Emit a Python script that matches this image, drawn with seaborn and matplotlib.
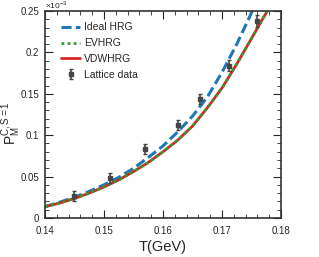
import numpy as np
import pandas as pd
import seaborn as sns
from matplotlib import pyplot as plt
from matplotlib.ticker import AutoMinorLocator

# model curves, values in units of 1e-3
T_model = [0.140, 0.1425, 0.145, 0.1475, 0.150, 0.1525, 0.155, 0.1575, 0.160,
           0.1625, 0.165, 0.1675, 0.170, 0.1725, 0.175, 0.1775, 0.180]
ideal_hrg = [0.0136, 0.019, 0.025, 0.032, 0.040, 0.049, 0.060, 0.073, 0.087,
             0.104, 0.123, 0.146, 0.176, 0.210, 0.248, 0.290, 0.340]
ev_hrg = [0.0136, 0.018, 0.0235, 0.030, 0.0375, 0.046, 0.056, 0.067, 0.080,
          0.094, 0.111, 0.133, 0.157, 0.186, 0.217, 0.248, 0.282]
vdw_hrg = [0.0136, 0.018, 0.0235, 0.030, 0.0375, 0.046, 0.056, 0.067, 0.080,
           0.094, 0.111, 0.133, 0.157, 0.186, 0.217, 0.248, 0.282]

# lattice points
T_lat = [0.145, 0.151, 0.157, 0.1625, 0.1663, 0.1712, 0.1759]
lat_val = [0.027, 0.048, 0.083, 0.112, 0.144, 0.184, 0.238]
lat_err = [0.006, 0.006, 0.006, 0.006, 0.006, 0.007, 0.007]

sns.set_style("ticks")
plt.rcParams["font.family"] = ["Liberation Sans", "DejaVu Sans"]
plt.rcParams["mathtext.fontset"] = "custom"
plt.rcParams["mathtext.rm"] = "Liberation Sans"

fig = plt.figure(figsize=(3.19, 2.57), dpi=100)
ax = fig.add_axes([0.141, 0.152, 0.740, 0.805])

df = pd.DataFrame({"T": T_model, "ideal": ideal_hrg, "ev": ev_hrg, "vdw": vdw_hrg})
sns.lineplot(data=df, x="T", y="ideal", ax=ax, color="#1f77b4", lw=2.2, label="Ideal HRG")
ax.lines[-1].set_dashes([3.3, 1.4])
sns.lineplot(data=df, x="T", y="vdw", ax=ax, color="#d62728", lw=2.0, label="VDWHRG")
sns.lineplot(data=df, x="T", y="ev", ax=ax, color="#2ca02c", lw=2.0, label="EVHRG")
ax.lines[-1].set_linestyle((0, (1, 1.2)))

ax.errorbar(T_lat, lat_val, yerr=lat_err, fmt="s", color="#444444", ms=3.5,
            elinewidth=1.2, capsize=1.5, capthick=1.0, label="Lattice data")

ax.set_xlim(0.14, 0.18)
ax.set_ylim(0, 0.25)
ax.set_xticks([0.14, 0.15, 0.16, 0.17, 0.18])
ax.set_xticklabels(["0.14", "0.15", "0.16", "0.17", "0.18"])
ax.set_yticks([0, 0.05, 0.1, 0.15, 0.2, 0.25])
ax.set_yticklabels(["0", "0.05", "0.1", "0.15", "0.2", "0.25"])
ax.xaxis.set_minor_locator(AutoMinorLocator(5))
ax.yaxis.set_minor_locator(AutoMinorLocator(5))
ax.tick_params(which="both", direction="in", top=True, right=True, labelsize=7)
ax.tick_params(axis="x", pad=6)
ax.tick_params(axis="y", pad=4)
ax.tick_params(which="major", length=6, width=0.8)
ax.tick_params(which="minor", length=3, width=0.6)
for s in ax.spines.values():
    s.set_linewidth(1.2)
    s.set_color("#333333")

ax.set_xlabel("T(GeV)", fontsize=10.5, labelpad=3)
ax.set_ylabel("P$_{\\rm M}^{\\rm C,S=1}$", fontsize=10, va="center")
ax.yaxis.set_label_coords(-0.14, 0.46)
ax.text(0.0, 1.0, "\u00d710$^{-3}$", transform=ax.transAxes, fontsize=6,
        ha="left", va="bottom")

h, l = ax.get_legend_handles_labels()
order = [l.index("Ideal HRG"), l.index("EVHRG"), l.index("VDWHRG"), l.index("Lattice data")]
ax.legend([h[i] for i in order], [l[i] for i in order], loc="upper left",
          frameon=False, fontsize=7.5, handlelength=1.8, handletextpad=0.4,
          labelspacing=0.55, bbox_to_anchor=(0.03, 0.99))

fig.savefig("out.png", dpi=100)
